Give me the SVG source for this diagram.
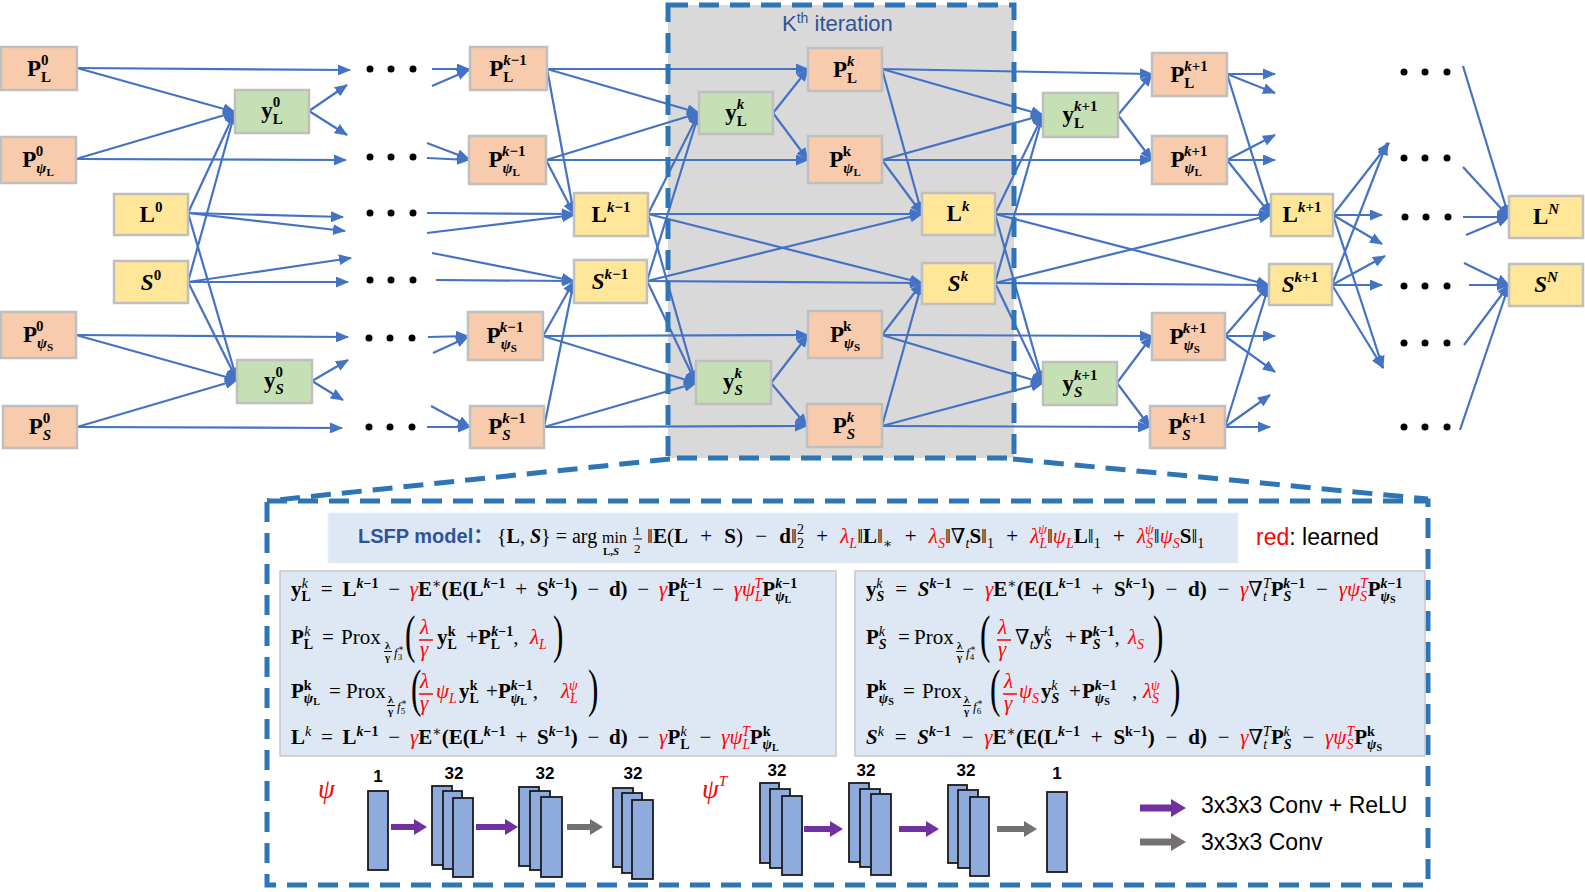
<svg xmlns="http://www.w3.org/2000/svg" width="1585" height="892" viewBox="0 0 1585 892">
<defs>
<marker id="ah" markerUnits="userSpaceOnUse" markerWidth="13" markerHeight="11" refX="12" refY="5.5" orient="auto"><path d="M0,0 L13,5.5 L0,11 Z" fill="#4472c4"/></marker>
<style>
.c line{stroke:#4472c4;stroke-width:2.2;marker-end:url(#ah)}
.po{fill:#f8cbad;stroke:#bfbfbf;stroke-width:2.5}
.pg{fill:#c5e0b4;stroke:#bfbfbf;stroke-width:2.5}
.py{fill:#ffe699;stroke:#bfbfbf;stroke-width:2.5}
.nl{font-family:"Liberation Serif","DejaVu Serif",serif;font-size:23px;font-weight:bold;text-anchor:middle;fill:#000}
.ns{font-size:15px}
.nss{font-size:11px}
.eq{font-family:"Liberation Serif","DejaVu Serif",serif;font-size:21px;fill:#000}
.ws{word-spacing:4.5px}
.wr{word-spacing:5.5px}
.b{font-weight:bold}
.i{font-style:italic}
.r{fill:#ff0000}
.s{font-size:14px}
.ss{font-size:10px}
.sf{font-size:11px;font-weight:bold}
.par{font-family:"Liberation Serif","DejaVu Serif",serif;font-size:52px;fill:#000}
.rl{stroke:#ff0000;stroke-width:1.5}
.kl{stroke:#000;stroke-width:1}
.dash{fill:none;stroke:#2e75b6;stroke-width:5;stroke-dasharray:20 11}
.eb{fill:#dee8f5;stroke:#c8c8c8;stroke-width:1.5}
.blk{fill:#8faadc;stroke:#1a1a1a;stroke-width:1.8}
.lab{font-family:"Liberation Sans",Arial,sans-serif;font-size:17px;font-weight:bold;text-anchor:middle;fill:#000}
.leg{font-family:"Liberation Sans",Arial,sans-serif;font-size:23px;fill:#000}
.dot{fill:#000}
</style>
</defs>
<rect width="1585" height="892" fill="#ffffff"/>
<rect x="668" y="5" width="346" height="453" fill="#d9d9d9"/>
<text x="782" y="31" style="font-family:'Liberation Sans',Arial,sans-serif;font-size:22px;fill:#2f5597">K<tspan style="font-size:14px" dy="-8">th</tspan><tspan dy="8"> iteration</tspan></text>

<g id="connectors" class="c">
<line x1="77" y1="68" x2="350" y2="70"/>
<line x1="77" y1="68" x2="235" y2="112"/>
<line x1="76" y1="159" x2="235" y2="112"/>
<line x1="76" y1="159" x2="346" y2="160"/>
<line x1="188" y1="213" x2="235" y2="112"/>
<line x1="188" y1="213" x2="237" y2="380"/>
<line x1="188" y1="213" x2="343" y2="217"/>
<line x1="188" y1="213" x2="345" y2="231"/>
<line x1="188" y1="282" x2="235" y2="112"/>
<line x1="188" y1="282" x2="237" y2="380"/>
<line x1="188" y1="282" x2="351" y2="258"/>
<line x1="188" y1="282" x2="348" y2="282"/>
<line x1="76" y1="335" x2="348" y2="337"/>
<line x1="76" y1="335" x2="237" y2="380"/>
<line x1="77" y1="427" x2="237" y2="380"/>
<line x1="77" y1="427" x2="342" y2="428"/>
<line x1="309" y1="111" x2="347" y2="85"/>
<line x1="309" y1="111" x2="347" y2="135"/>
<line x1="312" y1="381" x2="348" y2="360"/>
<line x1="312" y1="381" x2="343" y2="400"/>
<line x1="432" y1="69" x2="469" y2="69"/>
<line x1="432" y1="86" x2="469" y2="70"/>
<line x1="427" y1="143" x2="469" y2="159"/>
<line x1="427" y1="158" x2="469" y2="160"/>
<line x1="427" y1="213" x2="574" y2="214"/>
<line x1="427" y1="233" x2="574" y2="215"/>
<line x1="432" y1="253" x2="574" y2="281"/>
<line x1="436" y1="280" x2="574" y2="281"/>
<line x1="428" y1="337" x2="468" y2="336"/>
<line x1="433" y1="353" x2="468" y2="337"/>
<line x1="427" y1="427" x2="470" y2="427"/>
<line x1="431" y1="406" x2="470" y2="427"/>
<line x1="547" y1="69" x2="808" y2="69"/>
<line x1="547" y1="69" x2="699" y2="113"/>
<line x1="547" y1="69" x2="574" y2="214"/>
<line x1="546" y1="160" x2="699" y2="113"/>
<line x1="546" y1="160" x2="808" y2="160"/>
<line x1="546" y1="160" x2="574" y2="214"/>
<line x1="648" y1="214" x2="699" y2="113"/>
<line x1="648" y1="214" x2="922" y2="214"/>
<line x1="648" y1="214" x2="922" y2="283"/>
<line x1="648" y1="214" x2="696" y2="383"/>
<line x1="647" y1="281" x2="699" y2="113"/>
<line x1="647" y1="281" x2="922" y2="214"/>
<line x1="647" y1="281" x2="922" y2="283"/>
<line x1="647" y1="281" x2="696" y2="383"/>
<line x1="543" y1="336" x2="574" y2="281"/>
<line x1="543" y1="336" x2="808" y2="335"/>
<line x1="543" y1="336" x2="696" y2="383"/>
<line x1="544" y1="427" x2="574" y2="281"/>
<line x1="544" y1="427" x2="696" y2="383"/>
<line x1="544" y1="427" x2="807" y2="426"/>
<line x1="773" y1="113" x2="808" y2="69"/>
<line x1="773" y1="113" x2="808" y2="160"/>
<line x1="771" y1="383" x2="808" y2="335"/>
<line x1="771" y1="383" x2="807" y2="426"/>
<line x1="882" y1="69" x2="922" y2="214"/>
<line x1="882" y1="160" x2="922" y2="214"/>
<line x1="882" y1="335" x2="922" y2="283"/>
<line x1="882" y1="426" x2="922" y2="283"/>
<line x1="882" y1="69" x2="1152" y2="74"/>
<line x1="882" y1="69" x2="1043" y2="115"/>
<line x1="882" y1="160" x2="1043" y2="115"/>
<line x1="882" y1="160" x2="1152" y2="160"/>
<line x1="995" y1="214" x2="1043" y2="115"/>
<line x1="995" y1="214" x2="1271" y2="215"/>
<line x1="995" y1="214" x2="1269" y2="285"/>
<line x1="995" y1="214" x2="1043" y2="383"/>
<line x1="995" y1="283" x2="1043" y2="115"/>
<line x1="995" y1="283" x2="1271" y2="215"/>
<line x1="995" y1="283" x2="1269" y2="285"/>
<line x1="995" y1="283" x2="1043" y2="383"/>
<line x1="882" y1="335" x2="1152" y2="336"/>
<line x1="882" y1="335" x2="1043" y2="383"/>
<line x1="882" y1="426" x2="1043" y2="383"/>
<line x1="882" y1="426" x2="1150" y2="427"/>
<line x1="1118" y1="115" x2="1152" y2="74"/>
<line x1="1118" y1="115" x2="1152" y2="160"/>
<line x1="1117" y1="383" x2="1152" y2="336"/>
<line x1="1117" y1="383" x2="1150" y2="427"/>
<line x1="1227" y1="74" x2="1271" y2="215"/>
<line x1="1227" y1="74" x2="1275" y2="74"/>
<line x1="1227" y1="74" x2="1275" y2="93"/>
<line x1="1227" y1="160" x2="1271" y2="215"/>
<line x1="1227" y1="160" x2="1275" y2="135"/>
<line x1="1227" y1="160" x2="1275" y2="160"/>
<line x1="1225" y1="336" x2="1269" y2="285"/>
<line x1="1225" y1="336" x2="1275" y2="336"/>
<line x1="1225" y1="336" x2="1275" y2="372"/>
<line x1="1225" y1="427" x2="1269" y2="285"/>
<line x1="1225" y1="427" x2="1270" y2="395"/>
<line x1="1225" y1="427" x2="1270" y2="427"/>
<line x1="1333" y1="215" x2="1389" y2="143"/>
<line x1="1333" y1="215" x2="1382" y2="215"/>
<line x1="1333" y1="215" x2="1382" y2="244"/>
<line x1="1333" y1="215" x2="1383" y2="368"/>
<line x1="1332" y1="285" x2="1387" y2="143"/>
<line x1="1332" y1="285" x2="1385" y2="256"/>
<line x1="1332" y1="285" x2="1382" y2="285"/>
<line x1="1332" y1="285" x2="1383" y2="368"/>
<line x1="1463" y1="66" x2="1509" y2="217"/>
<line x1="1463" y1="167" x2="1509" y2="217"/>
<line x1="1463" y1="217" x2="1509" y2="217"/>
<line x1="1466" y1="235" x2="1509" y2="217"/>
<line x1="1464" y1="263" x2="1509" y2="285"/>
<line x1="1469" y1="285" x2="1509" y2="285"/>
<line x1="1464" y1="345" x2="1509" y2="285"/>
<line x1="1460" y1="430" x2="1509" y2="285"/>
</g>

<g id="kth-frame">
<rect class="dash" x="668" y="5" width="346" height="453"/>
<line class="dash" x1="670" y1="459" x2="267" y2="501"/>
<line class="dash" x1="1013" y1="459" x2="1428" y2="499"/>
<rect class="dash" x="267" y="501" width="1161" height="384"/>
</g>

<g id="dots" class="dot">
<circle cx="370" cy="69" r="3.5"/><circle cx="391" cy="69" r="3.5"/><circle cx="413" cy="69" r="3.5"/>
<circle cx="370" cy="157" r="3.5"/><circle cx="391" cy="157" r="3.5"/><circle cx="413" cy="157" r="3.5"/>
<circle cx="370" cy="213" r="3.5"/><circle cx="391" cy="213" r="3.5"/><circle cx="413" cy="213" r="3.5"/>
<circle cx="370" cy="280" r="3.5"/><circle cx="391" cy="280" r="3.5"/><circle cx="413" cy="280" r="3.5"/>
<circle cx="369" cy="338" r="3.5"/><circle cx="390" cy="338" r="3.5"/><circle cx="412" cy="338" r="3.5"/>
<circle cx="369" cy="427" r="3.5"/><circle cx="390" cy="427" r="3.5"/><circle cx="412" cy="427" r="3.5"/>
<circle cx="1404" cy="72" r="3.5"/><circle cx="1425" cy="72" r="3.5"/><circle cx="1447" cy="72" r="3.5"/>
<circle cx="1404" cy="158" r="3.5"/><circle cx="1425" cy="158" r="3.5"/><circle cx="1447" cy="158" r="3.5"/>
<circle cx="1405" cy="217" r="3.5"/><circle cx="1426" cy="217" r="3.5"/><circle cx="1448" cy="217" r="3.5"/>
<circle cx="1404" cy="286" r="3.5"/><circle cx="1425" cy="286" r="3.5"/><circle cx="1447" cy="286" r="3.5"/>
<circle cx="1404" cy="343" r="3.5"/><circle cx="1425" cy="343" r="3.5"/><circle cx="1447" cy="343" r="3.5"/>
<circle cx="1404" cy="427" r="3.5"/><circle cx="1425" cy="427" r="3.5"/><circle cx="1447" cy="427" r="3.5"/>
</g>

<g id="n-PL0"><rect class="po" x="1" y="47" width="76" height="43"/><text class="nl" x="39" y="76">P<tspan class="ns" dy="6">L</tspan><tspan class="ns" dx="-10" dy="-17">0</tspan></text></g>
<g id="n-PpL0"><rect class="po" x="1" y="137" width="75" height="46"/><text class="nl" x="38" y="167">P<tspan class="ns i" dy="6">ψ</tspan><tspan class="nss" dy="3">L</tspan><tspan class="ns" dx="-18" dy="-20">0</tspan></text></g>
<g id="n-yL0"><rect class="pg" x="235" y="90" width="74" height="43"/><text class="nl" x="272" y="118">y<tspan class="ns" dy="6">L</tspan><tspan class="ns" dx="-10" dy="-17">0</tspan></text></g>
<g id="n-L0"><rect class="py" x="114" y="194" width="74" height="41"/><text class="nl" x="151" y="222">L<tspan class="ns" dy="-10">0</tspan></text></g>
<g id="n-S0"><rect class="py" x="114" y="261" width="74" height="42"/><text class="nl" x="151" y="290"><tspan class="i">S</tspan><tspan class="ns" dy="-10">0</tspan></text></g>
<g id="n-PpS0"><rect class="po" x="1" y="312" width="75" height="46"/><text class="nl" x="38" y="342">P<tspan class="ns i" dy="6">ψ</tspan><tspan class="nss" dy="3">S</tspan><tspan class="ns" dx="-17" dy="-20">0</tspan></text></g>
<g id="n-yS0"><rect class="pg" x="237" y="360" width="75" height="43"/><text class="nl" x="274" y="388">y<tspan class="ns i" dy="6">S</tspan><tspan class="ns" dx="-8.5" dy="-17">0</tspan></text></g>
<g id="n-PS0"><rect class="po" x="3" y="406" width="74" height="42"/><text class="nl" x="40" y="434">P<tspan class="ns i" dy="6">S</tspan><tspan class="ns" dx="-8.5" dy="-17">0</tspan></text></g>

<g id="n-PLk1"><rect class="po" x="470" y="47" width="77" height="43"/><text class="nl" x="508" y="76">P<tspan class="ns" dy="6">L</tspan><tspan class="ns" dx="-10" dy="-17"><tspan class="i">k</tspan>−1</tspan></text></g>
<g id="n-PpLk1"><rect class="po" x="469" y="136" width="77" height="48"/><text class="nl" x="507" y="167">P<tspan class="ns i" dy="6">ψ</tspan><tspan class="nss" dy="3">L</tspan><tspan class="ns" dx="-18" dy="-20"><tspan class="i">k</tspan>−1</tspan></text></g>
<g id="n-Lk1"><rect class="py" x="574" y="193" width="74" height="43"/><text class="nl" x="611" y="222">L<tspan class="ns" dy="-10"><tspan class="i">k</tspan>−1</tspan></text></g>
<g id="n-Sk1"><rect class="py" x="574" y="260" width="73" height="43"/><text class="nl" x="610" y="289"><tspan class="i">S</tspan><tspan class="ns" dy="-10"><tspan class="i">k</tspan>−1</tspan></text></g>
<g id="n-PpSk1"><rect class="po" x="468" y="312" width="75" height="48"/><text class="nl" x="505" y="343">P<tspan class="ns i" dy="6">ψ</tspan><tspan class="nss" dy="3">S</tspan><tspan class="ns" dx="-17" dy="-20"><tspan class="i">k</tspan>−1</tspan></text></g>
<g id="n-PSk1"><rect class="po" x="470" y="406" width="74" height="42"/><text class="nl" x="507" y="434">P<tspan class="ns i" dy="6">S</tspan><tspan class="ns" dx="-8.5" dy="-17"><tspan class="i">k</tspan>−1</tspan></text></g>

<g id="n-yLk"><rect class="pg" x="699" y="92" width="74" height="42"/><text class="nl" x="736" y="120">y<tspan class="ns" dy="6">L</tspan><tspan class="ns i" dx="-10" dy="-17">k</tspan></text></g>
<g id="n-PLk"><rect class="po" x="808" y="48" width="74" height="43"/><text class="nl" x="845" y="77">P<tspan class="ns" dy="6">L</tspan><tspan class="ns i" dx="-10" dy="-17">k</tspan></text></g>
<g id="n-PpLk"><rect class="po" x="808" y="136" width="74" height="47"/><text class="nl" x="845" y="167">P<tspan class="ns i" dy="6">ψ</tspan><tspan class="nss" dy="3">L</tspan><tspan class="ns" dx="-18" dy="-20">k</tspan></text></g>
<g id="n-Lk"><rect class="py" x="922" y="193" width="73" height="42"/><text class="nl" x="958" y="221">L<tspan class="ns i" dy="-10">k</tspan></text></g>
<g id="n-Sk"><rect class="py" x="922" y="263" width="73" height="41"/><text class="nl" x="958" y="291"><tspan class="i">S</tspan><tspan class="ns i" dy="-10">k</tspan></text></g>
<g id="n-PpSk"><rect class="po" x="808" y="311" width="74" height="47"/><text class="nl" x="845" y="342">P<tspan class="ns i" dy="6">ψ</tspan><tspan class="nss" dy="3">S</tspan><tspan class="ns" dx="-17" dy="-20">k</tspan></text></g>
<g id="n-ySk"><rect class="pg" x="696" y="361" width="75" height="43"/><text class="nl" x="733" y="389">y<tspan class="ns i" dy="6">S</tspan><tspan class="ns i" dx="-8.5" dy="-17">k</tspan></text></g>
<g id="n-PSk"><rect class="po" x="807" y="404" width="75" height="43"/><text class="nl" x="844" y="433">P<tspan class="ns i" dy="6">S</tspan><tspan class="ns i" dx="-8.5" dy="-17">k</tspan></text></g>

<g id="n-PLk2"><rect class="po" x="1152" y="53" width="75" height="43"/><text class="nl" x="1189" y="82">P<tspan class="ns" dy="6">L</tspan><tspan class="ns" dx="-10" dy="-17"><tspan class="i">k</tspan>+1</tspan></text></g>
<g id="n-yLk2"><rect class="pg" x="1043" y="93" width="75" height="44"/><text class="nl" x="1080" y="122">y<tspan class="ns" dy="6">L</tspan><tspan class="ns" dx="-10" dy="-17"><tspan class="i">k</tspan>+1</tspan></text></g>
<g id="n-PpLk2"><rect class="po" x="1152" y="136" width="75" height="48"/><text class="nl" x="1189" y="167">P<tspan class="ns i" dy="6">ψ</tspan><tspan class="nss" dy="3">L</tspan><tspan class="ns" dx="-18" dy="-20"><tspan class="i">k</tspan>+1</tspan></text></g>
<g id="n-Lk2"><rect class="py" x="1271" y="194" width="62" height="42"/><text class="nl" x="1302" y="222">L<tspan class="ns" dy="-10"><tspan class="i">k</tspan>+1</tspan></text></g>
<g id="n-Sk2"><rect class="py" x="1269" y="264" width="63" height="41"/><text class="nl" x="1300" y="292"><tspan class="i">S</tspan><tspan class="ns" dy="-10"><tspan class="i">k</tspan>+1</tspan></text></g>
<g id="n-PpSk2"><rect class="po" x="1152" y="313" width="73" height="47"/><text class="nl" x="1188" y="344">P<tspan class="ns i" dy="6">ψ</tspan><tspan class="nss" dy="3">S</tspan><tspan class="ns" dx="-17" dy="-20"><tspan class="i">k</tspan>+1</tspan></text></g>
<g id="n-ySk2"><rect class="pg" x="1043" y="362" width="74" height="43"/><text class="nl" x="1080" y="391">y<tspan class="ns i" dy="6">S</tspan><tspan class="ns" dx="-8.5" dy="-17"><tspan class="i">k</tspan>+1</tspan></text></g>
<g id="n-PSk2"><rect class="po" x="1150" y="406" width="75" height="42"/><text class="nl" x="1187" y="434">P<tspan class="ns i" dy="6">S</tspan><tspan class="ns" dx="-8.5" dy="-17"><tspan class="i">k</tspan>+1</tspan></text></g>

<g id="n-LN"><rect class="py" x="1509" y="196" width="74" height="42"/><text class="nl" x="1546" y="224">L<tspan class="ns i" dy="-10">N</tspan></text></g>
<g id="n-SN"><rect class="py" x="1509" y="264" width="74" height="42"/><text class="nl" x="1546" y="292"><tspan class="i">S</tspan><tspan class="ns i" dy="-10">N</tspan></text></g>

<g id="model">
<rect x="328" y="513" width="910" height="50" fill="#dee8f5" stroke="#e9eff8" stroke-width="1"/>
<text x="358" y="543" style="font-family:'Liberation Sans','Noto Sans CJK SC',sans-serif;font-size:20px;font-weight:bold;fill:#2f5597">LSFP model：</text>
<text class="eq" style="font-size:20px" x="497" y="543">{<tspan class="b">L</tspan>, <tspan class="b i">S</tspan>} = arg</text>
<text class="eq" style="font-size:16px" x="602" y="543">min</text>
<text class="eq sf" x="603" y="555">L,<tspan class="i">S</tspan></text>
<text class="eq" style="font-size:13px" x="634" y="535">1</text>
<line class="kl" x1="633" y1="539" x2="642" y2="539"/>
<text class="eq" style="font-size:13px" x="634" y="553">2</text>
<text class="eq" style="font-size:21px;word-spacing:7px" x="647" y="543">‖<tspan class="b">E</tspan>(<tspan class="b">L</tspan> + <tspan class="b">S</tspan>) − <tspan class="b">d</tspan>‖<tspan class="s" dy="-9">2</tspan><tspan class="s" dx="-7" dy="14">2</tspan><tspan dy="-5"> + </tspan><tspan class="r i">λ</tspan><tspan class="s r i" dy="5">L</tspan><tspan dy="-5">‖</tspan><tspan class="b">L</tspan>‖<tspan class="s" dy="5">∗</tspan><tspan dy="-5"> + </tspan><tspan class="r i">λ</tspan><tspan class="s r i" dy="5">S</tspan><tspan dy="-5">‖∇</tspan><tspan class="s i" dy="5">t</tspan><tspan class="b" dy="-5">S</tspan>‖<tspan class="s" dy="5">1</tspan><tspan dy="-5"> + </tspan><tspan class="r i">λ</tspan><tspan class="s r i" dy="5">L</tspan><tspan class="s r i" dx="-9" dy="-14">ψ</tspan><tspan dy="9">‖</tspan><tspan class="r i">ψ</tspan><tspan class="s r i" dy="5">L</tspan><tspan class="b" dy="-5">L</tspan>‖<tspan class="s" dy="5">1</tspan><tspan dy="-5"> + </tspan><tspan class="r i">λ</tspan><tspan class="s r i" dy="5">S</tspan><tspan class="s r i" dx="-8" dy="-14">ψ</tspan><tspan dy="9">‖</tspan><tspan class="r i">ψ</tspan><tspan class="s r i" dy="5">S</tspan><tspan class="b" dy="-5">S</tspan>‖<tspan class="s" dy="5">1</tspan></text>
<text x="1256" y="545" style="font-family:'Liberation Sans',Arial,sans-serif;font-size:23px;fill:#000"><tspan fill="#ff0000">red</tspan>: learned</text>
</g>

<g id="eqL">
<rect class="eb" x="280" y="571" width="556" height="185"/>
<text class="eq ws" x="291" y="596"><tspan class="b">y</tspan><tspan class="s b" dy="5">L</tspan><tspan class="s i" dx="-9" dy="-13">k</tspan><tspan dy="8" dx="3"> = </tspan><tspan class="b">L</tspan><tspan class="s b" dy="-8"><tspan class="i">k</tspan>−1</tspan><tspan dy="8"> − </tspan><tspan class="r i">γ</tspan><tspan class="b">E</tspan><tspan class="s" dy="-8">∗</tspan><tspan class="b" dy="8">(E(L</tspan><tspan class="s b" dy="-8"><tspan class="i">k</tspan>−1</tspan><tspan dy="8"> + </tspan><tspan class="b">S</tspan><tspan class="s b" dy="-8"><tspan class="i">k</tspan>−1</tspan><tspan dy="8"><tspan class="b">)</tspan> − <tspan class="b">d)</tspan> − </tspan><tspan class="r i">γ</tspan><tspan class="b">P</tspan><tspan class="s b" dy="5">L</tspan><tspan class="s b" dx="-9" dy="-13"><tspan class="i">k</tspan>−1</tspan><tspan dy="8"> − </tspan><tspan class="r i">γψ</tspan><tspan class="s r i" dy="5">L</tspan><tspan class="s r i" dx="-8" dy="-13">T</tspan><tspan class="b" dy="8">P</tspan><tspan class="s b i" dy="5">ψ</tspan><tspan class="ss b" dy="2">L</tspan><tspan class="s b" dx="-16" dy="-15"><tspan class="i">k</tspan>−1</tspan></text>

<text class="eq" y="644"><tspan x="291" class="b">P</tspan><tspan class="s b" dy="5">L</tspan><tspan class="s i" dx="-9" dy="-13">k</tspan>
<tspan x="322" dy="8">=</tspan>
<tspan x="341">Prox</tspan></text>
<text class="eq sf" x="385" y="649">λ</text><line class="kl" x1="384" y1="651.5" x2="392" y2="651.5"/><text class="eq sf" x="385" y="661">γ</text>
<text class="eq" style="font-size:13px" x="394" y="657"><tspan class="i">f</tspan><tspan style="font-size:9px" dy="3">3</tspan><tspan style="font-size:9px" dx="-4.5" dy="-9">∗</tspan></text>
<text class="par" transform="translate(405,652) scale(0.6,1)">(</text>
<text class="eq r i" x="420" y="634">λ</text><line class="rl" x1="419" y1="640" x2="433" y2="640"/><text class="eq r i" x="420" y="656">γ</text>
<text class="eq" y="644"><tspan x="437" class="b">y</tspan><tspan class="s b" dy="5">L</tspan><tspan class="s b" dx="-9" dy="-13">k</tspan>
<tspan x="466" dy="8">+</tspan>
<tspan x="478" class="b">P</tspan><tspan class="s b" dy="5">L</tspan><tspan class="s b" dx="-9" dy="-13"><tspan class="i">k</tspan>−1</tspan><tspan dy="8">,</tspan>
<tspan x="530" class="r i">λ</tspan><tspan class="s r i" dy="5">L</tspan></text>
<text class="par" transform="translate(553,652) scale(0.6,1)">)</text>

<text class="eq" y="698"><tspan x="291" class="b">P</tspan><tspan class="s b i" dy="5">ψ</tspan><tspan class="ss b" dy="2">L</tspan><tspan class="s b" dx="-16" dy="-15">k</tspan>
<tspan x="329" dy="8">=</tspan>
<tspan x="346">Prox</tspan></text>
<text class="eq sf" x="388" y="703">λ</text><line class="kl" x1="387" y1="705.5" x2="395" y2="705.5"/><text class="eq sf" x="388" y="715">γ</text>
<text class="eq" style="font-size:13px" x="397" y="711"><tspan class="i">f</tspan><tspan style="font-size:9px" dy="3">5</tspan><tspan style="font-size:9px" dx="-4.5" dy="-9">∗</tspan></text>
<text class="par" transform="translate(411,706) scale(0.6,1)">(</text>
<text class="eq r i" x="420" y="688">λ</text><line class="rl" x1="419" y1="694" x2="433" y2="694"/><text class="eq r i" x="420" y="710">γ</text>
<text class="eq" y="698"><tspan x="436" class="r i">ψ</tspan><tspan class="s r i" dy="5">L</tspan>
<tspan x="459" class="b" dy="-5">y</tspan><tspan class="s b" dy="5">L</tspan><tspan class="s b" dx="-9" dy="-13">k</tspan>
<tspan x="486" dy="8">+</tspan>
<tspan x="498" class="b">P</tspan><tspan class="s b i" dy="5">ψ</tspan><tspan class="ss b" dy="2">L</tspan><tspan class="s b" dx="-16" dy="-15"><tspan class="i">k</tspan>−1</tspan><tspan dy="8">,</tspan>
<tspan x="561" class="r i">λ</tspan><tspan class="s r i" dy="5">L</tspan><tspan class="s r i" dx="-9" dy="-13">ψ</tspan></text>
<text class="par" transform="translate(588,706) scale(0.6,1)">)</text>

<text class="eq ws" x="291" y="744"><tspan class="b">L</tspan><tspan class="s i" dy="-8">k</tspan><tspan dy="8"> = </tspan><tspan class="b">L</tspan><tspan class="s b" dy="-8"><tspan class="i">k</tspan>−1</tspan><tspan dy="8"> − </tspan><tspan class="r i">γ</tspan><tspan class="b">E</tspan><tspan class="s" dy="-8">∗</tspan><tspan class="b" dy="8">(E(L</tspan><tspan class="s b" dy="-8"><tspan class="i">k</tspan>−1</tspan><tspan dy="8"> + </tspan><tspan class="b">S</tspan><tspan class="s b" dy="-8"><tspan class="i">k</tspan>−1</tspan><tspan dy="8"><tspan class="b">)</tspan> − <tspan class="b">d)</tspan> − </tspan><tspan class="r i">γ</tspan><tspan class="b">P</tspan><tspan class="s b" dy="5">L</tspan><tspan class="s i" dx="-9" dy="-13">k</tspan><tspan dy="8" dx="3"> − </tspan><tspan class="r i">γψ</tspan><tspan class="s r i" dy="5">L</tspan><tspan class="s r i" dx="-8" dy="-13">T</tspan><tspan class="b" dy="8">P</tspan><tspan class="s b i" dy="5">ψ</tspan><tspan class="ss b" dy="2">L</tspan><tspan class="s b" dx="-16" dy="-15">k</tspan></text>
</g>

<g id="eqR">
<rect class="eb" x="855" y="571" width="570" height="185"/>
<text class="eq wr" x="866" y="596"><tspan class="b">y</tspan><tspan class="s b i" dy="5">S</tspan><tspan class="s i" dx="-8" dy="-13">k</tspan><tspan dy="8" dx="2"> = </tspan><tspan class="b i">S</tspan><tspan class="s b" dy="-8"><tspan class="i">k</tspan>−1</tspan><tspan dy="8"> − </tspan><tspan class="r i">γ</tspan><tspan class="b">E</tspan><tspan class="s" dy="-8">∗</tspan><tspan class="b" dy="8">(E(L</tspan><tspan class="s b" dy="-8"><tspan class="i">k</tspan>−1</tspan><tspan dy="8"> + </tspan><tspan class="b">S</tspan><tspan class="s b" dy="-8"><tspan class="i">k</tspan>−1</tspan><tspan dy="8"><tspan class="b">)</tspan> − <tspan class="b">d)</tspan> − </tspan><tspan class="r i">γ</tspan><tspan>∇</tspan><tspan class="s i" dy="5">t</tspan><tspan class="s i" dx="-4" dy="-13">T</tspan><tspan class="b" dy="8">P</tspan><tspan class="s b i" dy="5">S</tspan><tspan class="s b" dx="-8" dy="-13"><tspan class="i">k</tspan>−1</tspan><tspan dy="8"> − </tspan><tspan class="r i">γψ</tspan><tspan class="s r i" dy="5">S</tspan><tspan class="s r i" dx="-7" dy="-13">T</tspan><tspan class="b" dy="8">P</tspan><tspan class="s b i" dy="5">ψ</tspan><tspan class="ss b" dy="2">S</tspan><tspan class="s b" dx="-15" dy="-15"><tspan class="i">k</tspan>−1</tspan></text>

<text class="eq" y="644"><tspan x="866" class="b">P</tspan><tspan class="s b i" dy="5">S</tspan><tspan class="s i" dx="-8" dy="-13">k</tspan>
<tspan x="898" dy="8">=</tspan>
<tspan x="914">Prox</tspan></text>
<text class="eq sf" x="957" y="649">λ</text><line class="kl" x1="956" y1="651.5" x2="964" y2="651.5"/><text class="eq sf" x="957" y="661">γ</text>
<text class="eq" style="font-size:13px" x="966" y="657"><tspan class="i">f</tspan><tspan style="font-size:9px" dy="3">4</tspan><tspan style="font-size:9px" dx="-4.5" dy="-9">∗</tspan></text>
<text class="par" transform="translate(980,652) scale(0.6,1)">(</text>
<text class="eq r i" x="998" y="634">λ</text><line class="rl" x1="997" y1="640" x2="1011" y2="640"/><text class="eq r i" x="998" y="656">γ</text>
<text class="eq" y="644"><tspan x="1015">∇</tspan><tspan class="s i" dy="5">t</tspan><tspan class="b" dy="-5">y</tspan><tspan class="s b i" dy="5">S</tspan><tspan class="s i" dx="-8" dy="-13">k</tspan>
<tspan x="1065" dy="8">+</tspan>
<tspan x="1080" class="b">P</tspan><tspan class="s b i" dy="5">S</tspan><tspan class="s b" dx="-8" dy="-13"><tspan class="i">k</tspan>−1</tspan><tspan dy="8">,</tspan>
<tspan x="1128" class="r i">λ</tspan><tspan class="s r i" dy="5">S</tspan></text>
<text class="par" transform="translate(1153,652) scale(0.6,1)">)</text>

<text class="eq" y="698"><tspan x="866" class="b">P</tspan><tspan class="s b i" dy="5">ψ</tspan><tspan class="ss b" dy="2">S</tspan><tspan class="s b" dx="-15" dy="-15">k</tspan>
<tspan x="903" dy="8">=</tspan>
<tspan x="922">Prox</tspan></text>
<text class="eq sf" x="964" y="703">λ</text><line class="kl" x1="963" y1="705.5" x2="971" y2="705.5"/><text class="eq sf" x="964" y="715">γ</text>
<text class="eq" style="font-size:13px" x="973" y="711"><tspan class="i">f</tspan><tspan style="font-size:9px" dy="3">6</tspan><tspan style="font-size:9px" dx="-4.5" dy="-9">∗</tspan></text>
<text class="par" transform="translate(990,706) scale(0.6,1)">(</text>
<text class="eq r i" x="1004" y="688">λ</text><line class="rl" x1="1003" y1="694" x2="1017" y2="694"/><text class="eq r i" x="1004" y="710">γ</text>
<text class="eq" y="698"><tspan x="1019" class="r i">ψ</tspan><tspan class="s r i" dy="5">S</tspan>
<tspan x="1041" class="b" dy="-5">y</tspan><tspan class="s b i" dy="5">S</tspan><tspan class="s i" dx="-8" dy="-13">k</tspan>
<tspan x="1069" dy="8">+</tspan>
<tspan x="1082" class="b">P</tspan><tspan class="s b i" dy="5">ψ</tspan><tspan class="ss b" dy="2">S</tspan><tspan class="s b" dx="-15" dy="-15"><tspan class="i">k</tspan>−1</tspan>
<tspan x="1132" dy="8">,</tspan>
<tspan x="1143" class="r i">λ</tspan><tspan class="s r i" dy="5">S</tspan><tspan class="s r i" dx="-8" dy="-13">ψ</tspan></text>
<text class="par" transform="translate(1170,706) scale(0.6,1)">)</text>

<text class="eq wr" x="866" y="744"><tspan class="b i">S</tspan><tspan class="s i" dy="-8">k</tspan><tspan dy="8"> = </tspan><tspan class="b i">S</tspan><tspan class="s b" dy="-8"><tspan class="i">k</tspan>−1</tspan><tspan dy="8"> − </tspan><tspan class="r i">γ</tspan><tspan class="b">E</tspan><tspan class="s" dy="-8">∗</tspan><tspan class="b" dy="8">(E(L</tspan><tspan class="s b" dy="-8"><tspan class="i">k</tspan>−1</tspan><tspan dy="8"> + </tspan><tspan class="b">S</tspan><tspan class="s b" dy="-8">k−1</tspan><tspan dy="8"><tspan class="b">)</tspan> − <tspan class="b">d)</tspan> − </tspan><tspan class="r i">γ</tspan><tspan>∇</tspan><tspan class="s i" dy="5">t</tspan><tspan class="s i" dx="-4" dy="-13">T</tspan><tspan class="b" dy="8">P</tspan><tspan class="s b i" dy="5">S</tspan><tspan class="s i" dx="-8" dy="-13">k</tspan><tspan dy="8" dx="2"> − </tspan><tspan class="r i">γψ</tspan><tspan class="s r i" dy="5">S</tspan><tspan class="s r i" dx="-7" dy="-13">T</tspan><tspan class="b" dy="8">P</tspan><tspan class="s b i" dy="5">ψ</tspan><tspan class="ss b" dy="2">S</tspan><tspan class="s b" dx="-15" dy="-15">k</tspan></text>
</g>

<g id="cnn-psi">
<text x="318" y="798" style="font-family:'Liberation Serif',serif;font-style:italic;font-size:27px;fill:#ff0000">ψ</text>
<text class="lab" x="378" y="782">1</text>
<rect class="blk" x="368" y="791" width="20" height="79"/>
<polygon points="391,824 414,824 414,819 427,827 414,835 414,830 391,830" fill="#7030a0"/>
<text class="lab" x="454" y="779">32</text>
<rect class="blk" x="432" y="786" width="20" height="79"/>
<rect class="blk" x="443" y="791" width="19" height="78"/>
<rect class="blk" x="453" y="798" width="20" height="79"/>
<polygon points="476,824 505,824 505,819 518,827 505,835 505,830 476,830" fill="#7030a0"/>
<text class="lab" x="545" y="779">32</text>
<rect class="blk" x="519" y="787" width="20" height="79"/>
<rect class="blk" x="530" y="791" width="20" height="79"/>
<rect class="blk" x="541" y="797" width="21" height="80"/>
<polygon points="567,824 590,824 590,819 603,827 590,835 590,830 567,830" fill="#767171"/>
<text class="lab" x="633" y="779">32</text>
<rect class="blk" x="613" y="788" width="20" height="79"/>
<rect class="blk" x="622" y="793" width="20" height="80"/>
<rect class="blk" x="632" y="800" width="21" height="79"/>
</g>

<g id="cnn-psiT">
<text x="702" y="798" style="font-family:'Liberation Serif',serif;font-style:italic;font-size:27px;fill:#ff0000">ψ<tspan style="font-size:15px" dy="-12">T</tspan></text>
<text class="lab" x="777" y="776">32</text>
<rect class="blk" x="760" y="783" width="19" height="80"/>
<rect class="blk" x="770" y="789" width="20" height="79"/>
<rect class="blk" x="782" y="796" width="20" height="79"/>
<polygon points="804,826 830,826 830,821 843,829 830,837 830,832 804,832" fill="#7030a0"/>
<text class="lab" x="866" y="776">32</text>
<rect class="blk" x="849" y="783" width="20" height="79"/>
<rect class="blk" x="860" y="789" width="20" height="78"/>
<rect class="blk" x="871" y="794" width="20" height="81"/>
<polygon points="899,826 926,826 926,821 939,829 926,837 926,832 899,832" fill="#7030a0"/>
<text class="lab" x="966" y="776">32</text>
<rect class="blk" x="948" y="785" width="19" height="78"/>
<rect class="blk" x="958" y="790" width="20" height="78"/>
<rect class="blk" x="970" y="797" width="19" height="79"/>
<polygon points="997,826 1024,826 1024,821 1037,829 1024,837 1024,832 997,832" fill="#767171"/>
<text class="lab" x="1057" y="779">1</text>
<rect class="blk" x="1047" y="792" width="20" height="80"/>
</g>

<g id="legend">
<polygon points="1140,804.5 1171,804.5 1171,799 1186,808 1171,817 1171,811.5 1140,811.5" fill="#7030a0"/>
<text class="leg" x="1201" y="813">3x3x3 Conv + ReLU</text>
<polygon points="1140,838.5 1171,838.5 1171,833 1186,842 1171,851 1171,845.5 1140,845.5" fill="#767171"/>
<text class="leg" x="1201" y="850">3x3x3 Conv</text>
</g>
</svg>
